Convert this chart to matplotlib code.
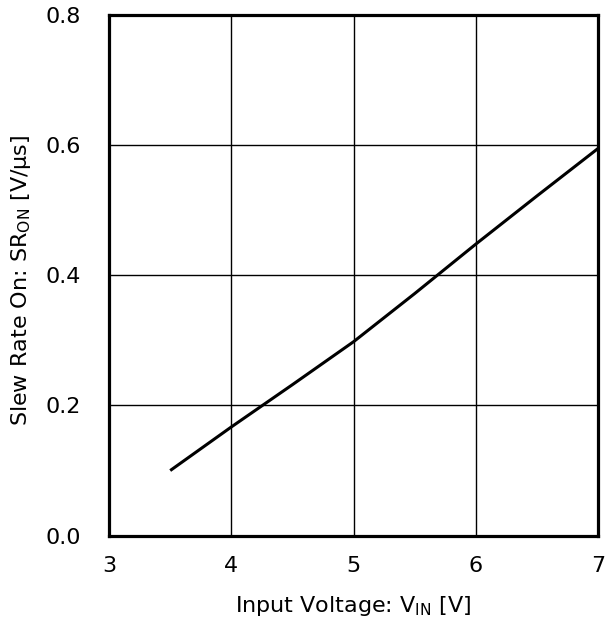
import matplotlib
matplotlib.use('Agg')
import matplotlib.pyplot as plt

# Input voltage [V] and slew rate on [V/us]
vin = [3.5, 4.0, 4.5, 5.0, 5.5, 6.0, 6.5, 7.0]
sr_on = [0.100, 0.167, 0.232, 0.298, 0.372, 0.448, 0.522, 0.595]

x_ticks = [3, 4, 5, 6, 7]
y_ticks = [0.0, 0.2, 0.4, 0.6, 0.8]

plt.rcParams['font.family'] = ['DejaVu Sans']
plt.rcParams['mathtext.default'] = 'regular'

fig = plt.figure(figsize=(6.06, 6.25), dpi=100)
ax = fig.add_axes([0.18, 0.143, 0.807, 0.833])

ax.plot(vin, sr_on, color='black', linewidth=2.2, solid_capstyle='butt')

ax.set_xlim(3, 7)
ax.set_ylim(0, 0.8)
ax.set_xticks(x_ticks)
ax.set_yticks(y_ticks)
ax.set_yticklabels(['%.1f' % v for v in y_ticks])
ax.tick_params(length=0, labelsize=16)
ax.tick_params(axis='x', pad=15)
ax.tick_params(axis='y', pad=20)
ax.grid(True, color='black', linewidth=1.0)

for sp in ax.spines.values():
    sp.set_linewidth(2.3)

ax.set_xlabel(r'Input Voltage: V$_{IN}$ [V]', fontsize=16)
ax.set_ylabel(r'Slew Rate On: SR$_{ON}$ [V/μs]', fontsize=16)
ax.xaxis.set_label_coords(0.5, -0.113)
ax.yaxis.set_label_coords(-0.155, 0.49)

fig.savefig('out.png', dpi=100)
